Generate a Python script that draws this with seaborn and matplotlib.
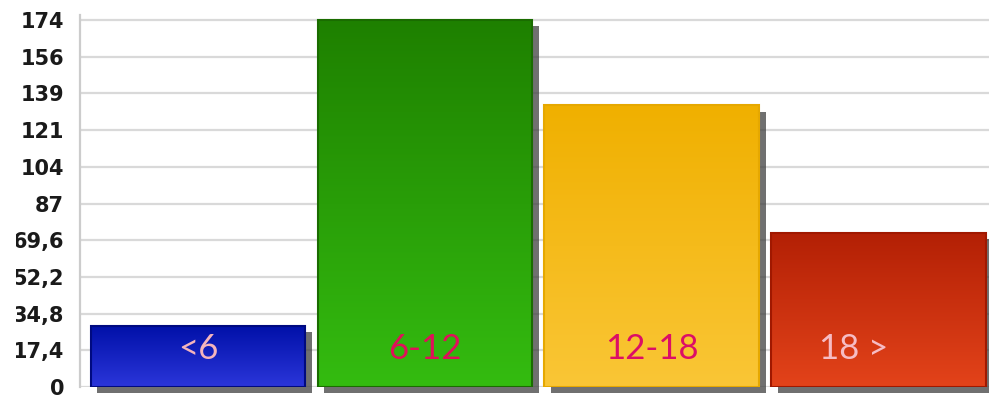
import numpy as np
import pandas as pd
import matplotlib
matplotlib.use("Agg")
import matplotlib.pyplot as plt
import matplotlib.patheffects as pe
from matplotlib.colors import LinearSegmentedColormap
from matplotlib.patches import Rectangle
import seaborn as sns

# data
groups = ["<6", "6-12", "12-18", "18 >"]
counts = [29, 174, 133.5, 73]
tick_values = [0, 17.4, 34.8, 52.2, 69.6, 87, 104.4, 121.8, 139.2, 156.6, 174]
tick_labels = ["0", "17,4", "34,8", "52,2", "69,6", "87", "104", "121", "139", "156", "174"]

top_colors = ["#0010a8", "#1e8000", "#f0b000", "#b32005"]
bottom_colors = ["#2b36da", "#34bc10", "#fac636", "#e3431a"]
edge_colors = ["#000a80", "#1a6c00", "#e6a800", "#a01800"]
label_colors = ["#f4b4bc", "#e0105a", "#dc0e66", "#f6bcc4"]

sns.set_style("white")
plt.rcParams['font.family'] = ['DejaVu Sans']

df = pd.DataFrame({"group": groups, "count": counts})

fig = plt.figure(figsize=(9.89, 4.0), dpi=100)
ax = fig.add_axes([80 / 989, 13 / 400, 909 / 989, 372 / 400])

sns.barplot(data=df, x="group", y="count", hue="group", palette=bottom_colors,
            legend=False, width=0.947, saturation=1, ax=ax, zorder=2)

for i, bar in enumerate(ax.patches):
    bar.set_path_effects([pe.SimplePatchShadow(offset=(4.5, -4.5), shadow_rgbFace="#404040", alpha=0.75),
                          pe.Normal()])
    bar.set_edgecolor("none")
    bar.set_clip_on(False)
    x0, y0, w, h = bar.get_x(), bar.get_y(), bar.get_width(), bar.get_height()
    cmap = LinearSegmentedColormap.from_list("g%d" % i, [bottom_colors[i], top_colors[i]])
    grad = np.linspace(0, 1, 256).reshape(-1, 1)
    img = ax.imshow(grad, cmap=cmap, aspect="auto", origin="lower",
                    extent=(x0, x0 + w, y0, y0 + h), zorder=2.5)
    img.set_clip_path(bar)
    ax.add_patch(Rectangle((x0, y0), w, h, facecolor="none",
                           edgecolor=edge_colors[i], linewidth=1.5, zorder=2.6))

ax.set_aspect("auto")
ax.set_xlim(-0.52, 3.485)
ax.set_ylim(0, 176.4)

label_dx = [0, 0, 0, -0.11]
for i, g in enumerate(groups):
    ax.text(i + label_dx[i], 18.0, g, ha="center", va="center", fontsize=25,
            color=label_colors[i], family=["Lato", "DejaVu Sans"], zorder=5)

ax.set_yticks(tick_values)
ax.set_yticklabels(tick_labels, fontsize=15, fontweight="bold", color="#1a1a1a")
ax.set_xticks([])
ax.set_xlabel("")
ax.set_ylabel("")

ax.set_axisbelow(True)
ax.yaxis.grid(True, color="#d9d9d9", linewidth=1.6)
ax.tick_params(axis="y", length=4, width=1.5, color="#cccccc", pad=7.5)

for side in ["top", "right", "bottom"]:
    ax.spines[side].set_visible(False)
ax.spines["left"].set_color("#cccccc")
ax.spines["left"].set_linewidth(1.6)

# the source image is cropped on the left, cutting into the wider labels
fig.patches.append(Rectangle((0, 0), 16 / 989, 1, transform=fig.transFigure,
                             facecolor="white", edgecolor="none", zorder=10))

fig.savefig("out.png", dpi=100)
